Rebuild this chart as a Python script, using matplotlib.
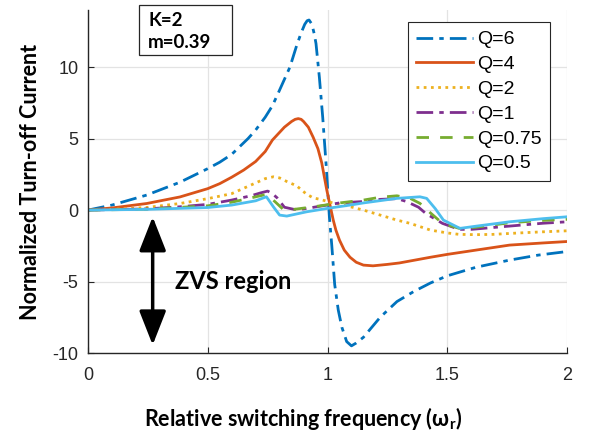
import matplotlib
matplotlib.use("Agg")
import matplotlib.pyplot as plt
from matplotlib.patches import Rectangle, FancyArrowPatch

plt.rcParams['font.family'] = ['Liberation Sans', 'DejaVu Sans']
plt.rcParams['mathtext.fontset'] = 'custom'
plt.rcParams['mathtext.rm'] = 'Lato:bold'
plt.rcParams['mathtext.bf'] = 'Lato:bold'

# ---------------- data ----------------
x_q6 = [0, 0.1, 0.245, 0.384, 0.5, 0.55, 0.6, 0.668, 0.7, 0.74, 0.77, 0.8, 0.843, 0.871,
        0.89, 0.905, 0.915, 0.923, 0.935, 0.945, 0.952, 0.966, 0.98, 0.995, 1.008, 1.018,
        1.03, 1.045, 1.06, 1.08, 1.1, 1.12, 1.15, 1.22, 1.29, 1.36, 1.43, 1.5, 1.62, 1.76,
        1.88, 2.0]
y_q6 = [0, 0.35, 1.05, 1.95, 2.9, 3.35, 3.9, 5.0, 5.6, 6.5, 7.3, 8.4, 10.0, 11.5,
        12.4, 13.0, 13.25, 13.3, 13.0, 12.3, 11.65, 9.3, 6.5, 3.0, -0.5, -2.5,
        -5.2, -7.0, -8.2, -9.2, -9.5, -9.3, -8.9, -7.5, -6.4, -5.7, -5.1, -4.6, -4.0, -3.5,
        -3.15, -2.9]

x_q4 = [0, 0.1, 0.245, 0.384, 0.5, 0.55, 0.6, 0.65, 0.7, 0.74, 0.77, 0.82, 0.85, 0.865,
        0.878, 0.89, 0.9, 0.92, 0.94, 0.96, 0.976, 0.997, 1.024, 1.035, 1.05, 1.07, 1.094,
        1.12, 1.15, 1.19, 1.25, 1.3, 1.43, 1.5, 1.6, 1.76, 1.9, 2.0]
y_q4 = [0, 0.15, 0.46, 0.92, 1.5, 1.85, 2.3, 2.8, 3.4, 4.1, 4.9, 5.8, 6.2, 6.35,
        6.4, 6.35, 6.2, 5.8, 5.1, 4.3, 3.3, 1.4, -0.7, -1.4, -2.1, -2.8, -3.3,
        -3.65, -3.85, -3.9, -3.8, -3.7, -3.3, -3.1, -2.85, -2.45, -2.3, -2.2]

x_q2 = [0, 0.1, 0.245, 0.384, 0.5, 0.6, 0.7, 0.74, 0.774, 0.8, 0.83, 0.871, 0.91, 0.94,
        0.97, 1.01, 1.08, 1.15, 1.22, 1.29, 1.345, 1.43, 1.5, 1.55, 1.62, 1.69, 1.8, 1.9, 2.0]
y_q2 = [0, 0.05, 0.18, 0.46, 0.8, 1.15, 1.9, 2.2, 2.33, 2.25, 2.0, 1.7, 1.15, 0.85,
        0.75, 0.55, 0.3, 0.0, -0.35, -0.7, -0.93, -1.4, -1.6, -1.7, -1.72, -1.7, -1.6, -1.52, -1.45]

x_q1 = [0, 0.245, 0.384, 0.5, 0.6, 0.68, 0.72, 0.75, 0.77, 0.79, 0.82, 0.86, 0.9, 0.98,
        1.05, 1.15, 1.22, 1.29, 1.33, 1.38, 1.41, 1.48, 1.55, 1.6, 1.76, 1.9, 2.0]
y_q1 = [0, 0.08, 0.23, 0.4, 0.7, 1.0, 1.2, 1.33, 1.15, 0.85, 0.2, 0.05, 0.08, 0.3,
        0.5, 0.6, 0.75, 0.8, 0.6, 0.2, -0.23, -0.93, -1.35, -1.35, -1.12, -0.92, -0.82]

x_q075 = [0, 0.245, 0.5, 0.6, 0.68, 0.745, 0.78, 0.815, 0.86, 0.95, 1.05, 1.15, 1.22,
          1.29, 1.345, 1.386, 1.43, 1.48, 1.55, 1.62, 1.76, 1.9, 2.0]
y_q075 = [0, 0.06, 0.3, 0.55, 0.85, 1.1, 0.6, 0.05, 0.05, 0.25, 0.5, 0.7, 0.9,
          1.0, 0.82, 0.47, -0.2, -0.93, -1.28, -1.2, -0.89, -0.72, -0.65]

x_q05 = [0, 0.245, 0.5, 0.6, 0.7, 0.745, 0.774, 0.8, 0.83, 0.913, 1.0, 1.094, 1.15,
         1.29, 1.386, 1.414, 1.45, 1.484, 1.553, 1.623, 1.76, 1.9, 2.0]
y_q05 = [0, 0.05, 0.18, 0.35, 0.65, 0.93, 0.23, -0.35, -0.42, -0.12, 0.12, 0.35, 0.5,
         0.82, 0.93, 0.82, 0.1, -0.7, -1.28, -1.12, -0.82, -0.6, -0.47]

labels = ['Q=6', 'Q=4', 'Q=2', 'Q=1', 'Q=0.75', 'Q=0.5']
xticks = [0, 0.5, 1, 1.5, 2]
xtick_labels = ['0', '0.5', '1', '1.5', '2']
yticks = [-10, -5, 0, 5, 10]
ytick_labels = ['-10', '-5', '0', '5', '10']

# ---------------- figure ----------------
fig = plt.figure(figsize=(5.91, 4.34), dpi=100)
ax = fig.add_axes([88/591, 1-353/434, (567-88)/591, (353-10)/434])

series = [(x_q6, y_q6, '#0072BD', (0, (6, 2.2, 1.6, 2.2))),
          (x_q4, y_q4, '#D95319', '-'),
          (x_q2, y_q2, '#EDB120', (0, (1, 1.6))),
          (x_q1, y_q1, '#7E2F8E', (0, (6, 2.2, 1.6, 2.2))),
          (x_q075, y_q075, '#77AC30', (0, (4.5, 4))),
          (x_q05, y_q05, '#4DBEEE', '-')]
for (xs, ys, c, ls), lab in zip(series, labels):
    ax.plot(xs, ys, color=c, linestyle=ls, linewidth=2, label=lab)

ax.set_xlim(0, 2)
ax.set_ylim(-10, 14)
ax.set_xticks(xticks)
ax.set_xticklabels(xtick_labels, fontfamily='Liberation Sans')
ax.set_yticks(yticks)
ax.set_yticklabels(ytick_labels, fontfamily='Liberation Sans')
ax.grid(True, color='#E3E3E3', linewidth=0.9)
ax.set_axisbelow(True)
for s in ['top', 'right']:
    ax.spines[s].set_visible(False)
for s in ['left', 'bottom']:
    ax.spines[s].set_color('#262626')
    ax.spines[s].set_linewidth(1.0)
ax.tick_params(direction='in', length=4, width=0.8, colors='#262626',
               labelsize=13, labelcolor='#262626')
ax.tick_params(axis='x', pad=10)
ax.tick_params(axis='y', pad=7)

fig.text(303/591, 1-418/434, 'Relative switching frequency (ω$_\\mathrm{r}$)', fontsize=15.5,
         fontfamily='Lato', fontweight='bold', ha='center', va='center')
fig.text(31/591, 1-182/434, 'Normalized Turn-off Current', fontsize=15.5,
         fontfamily='Lato', fontweight='bold', ha='center', va='center', rotation=90)

leg = ax.legend(loc='upper right', bbox_to_anchor=(550/591, 1-22/434),
                bbox_transform=fig.transFigure,
                prop={'family': 'Liberation Sans', 'size': 14}, frameon=True,
                fancybox=False, framealpha=1, edgecolor='#262626',
                handlelength=2.9, handletextpad=0.2, labelspacing=0.37,
                borderpad=0.45, borderaxespad=0)
leg.get_frame().set_linewidth(0.8)

# K / m box
fig.patches.append(Rectangle((139/591, 1-55/434), (232-139)/591, (55-5)/434,
                             transform=fig.transFigure, facecolor='white',
                             edgecolor='#262626', linewidth=0.9))
fig.text(148/591, 1-20/434, 'K=2', fontsize=13.5, fontfamily='Lato',
         fontweight='bold', va='center', ha='left')
fig.text(148/591, 1-43/434, 'm=0.39', fontsize=13.5, fontfamily='Lato',
         fontweight='bold', va='center', ha='left')

# ZVS region annotation
arr = FancyArrowPatch((0.27, -0.47), (0.27, -9.44), arrowstyle='<|-|>,head_length=1.4,head_width=0.55',
                      mutation_scale=15, color='black', linewidth=2.5,
                      shrinkA=0, shrinkB=0)
ax.add_patch(arr)
ax.text(0.365, -4.98, 'ZVS region', fontsize=17, fontfamily='Lato',
        fontweight='bold', va='center', ha='left')

fig.savefig('out.png', dpi=100)
